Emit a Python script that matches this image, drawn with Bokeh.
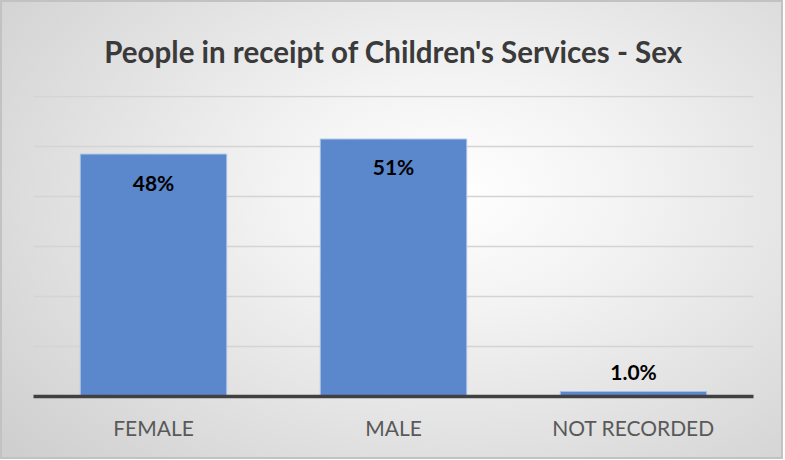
from bokeh.plotting import figure
from bokeh.models import FactorRange, Range1d, ColumnDataSource
from bokeh.core.properties import value
from bokeh.embed import file_html
from bokeh.resources import INLINE

chart_title = "People in receipt of Children's Services - Sex"
categories = ["FEMALE", "MALE", "NOT RECORDED"]
shares = [0.484, 0.514, 0.01]
share_labels = ["48%", "51%", "1.0%"]
label_offsets = [28, 27, -20]

src = ColumnDataSource(dict(cat=categories, val=shares, lab=share_labels, off=label_offsets))

p = figure(
    x_range=FactorRange(factors=categories, range_padding=0),
    y_range=Range1d(0, 0.601),
    width=783, height=459,
    output_backend="svg", toolbar_location=None,
    min_border_left=33, min_border_right=30, min_border_top=95, min_border_bottom=63,
    title=chart_title,
)
p.border_fill_color = None
p.background_fill_color = None
p.outline_line_color = None
p.styles = {
    "background": "radial-gradient(ellipse 75% 85% at 58% 42%, #ffffff 0%, #f3f3f3 30%, #cfcfcf 100%)",
    "box-shadow": "inset 0 0 0 2px #c2c2c2",
}

p.title.align = "center"
p.title.vertical_align = "top"
p.title.text_font = "Lato"
p.title.text_font_style = "bold"
p.title.text_font_size = "29.5px"
p.title.text_color = "#3a3a3a"
p.title.standoff = 50

p.vbar(x="cat", top="val", width=0.61, source=src,
       fill_color="#5b87cd", line_color="#a9c0e6", line_width=1)

p.text(x="cat", y="val", text="lab", y_offset="off", source=src,
       text_align="center", text_baseline="middle",
       text_font=value("Lato"), text_font_style="bold",
       text_font_size="21px", text_color="#000000")

p.yaxis.visible = False
p.ygrid.grid_line_color = "#d4d4d4"
p.ygrid.grid_line_width = 1.5
p.ygrid.ticker = [0.1, 0.2, 0.3, 0.4, 0.5, 0.6]
p.xgrid.grid_line_color = None

p.xaxis.axis_line_color = "#404040"
p.xaxis.axis_line_width = 3.5
p.xaxis.major_tick_line_color = None
p.xaxis.minor_tick_line_color = None
p.xaxis.major_label_text_font = "Lato"
p.xaxis.major_label_text_font_size = "21px"
p.xaxis.major_label_text_color = "#595959"
p.xaxis.major_label_standoff = 12

open("out.html", "w").write(file_html(p, INLINE))
